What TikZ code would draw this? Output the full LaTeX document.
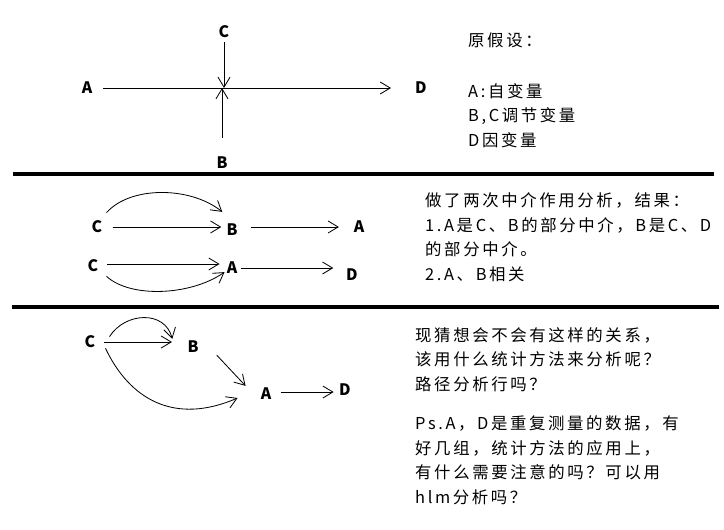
\documentclass[tikz,border=0pt]{standalone}
\usepackage{fontspec}
\newfontfamily\cjk[LetterSpace=16]{Noto Sans CJK SC}
\newfontfamily\labfont{Noto Sans CJK SC}
\usetikzlibrary{arrows.meta,calc}
\tikzset{
  var/.style={font=\labfont\bfseries\fontsize{13.5}{16}\selectfont, inner sep=0pt},
  note/.style={font=\cjk\fontsize{14}{20.8}\selectfont, inner sep=0pt,
    anchor=base west, align=left},
  arr/.style={-{Straight Barb[length=3mm,width=3.6mm]}, line width=0.7pt},
  sep/.style={line width=3.3pt}
}
\begin{document}
\begin{tikzpicture}[x=0.03cm, y=-0.03cm]
  \useasboundingbox (0,0) rectangle (724,529);

  % Hipoteza
  \node[var] (a1) at (87,88) {A};
  \node[var] (d1) at (421,88) {D};
  \node[var] (c1) at (224,32) {C};
  \node[var] (b1) at (222,163) {B};
  \draw[arr, shorten <=3.2mm, shorten >=7.2mm] (a1.east) -- (d1.west);
  \draw[arr, shorten <=1.2mm] (c1.south) -- (c1 |- a1);
  \draw[arr, shorten <=5.7mm] (b1.north) -- (b1 |- a1);

  % (base = ostatnia linia)
  \node[note] (hyp) at (468,46) {原假设：};
  \node[note] (vars) at (468,146) {A:自变量\\B,C调节变量\\D因变量};

  % Kreski
  \draw[sep] (13,174) -- (714,174);
  \draw[sep] (12,307) -- (719,307);

  % Mediacja
  \node[var] (c2) at (97,227) {C};
  \node[var] (b2) at (232,230) {B};
  \node[var] (a2) at (359,227) {A};
  \node[var] (c3) at (93,266) {C};
  \node[var] (a3) at (232,268) {A};
  \node[var] (d3) at (352,275) {D};

  \draw[arr, shorten <=3mm, shorten >=1.5mm] (c2.east) -- (c2.east -| b2.west);
  \draw[arr] ($(c2.north east)+(4,-8)$) .. controls (130,186) and (190,186)
    .. ($(b2.north west)+(-4,-12)$);
  \draw[arr, shorten <=4mm, shorten >=4.4mm] (a2.west -| b2.east) -- (a2.west);
  \draw[arr, shorten <=2.5mm, shorten >=2.1mm] ($(c3.east)+(0,-2)$)
    -- ($(c3.east -| a3.west)+(0,-2)$);
  \draw[arr] ($(c3.south east)+(8,4)$) .. controls (130,298) and (190,296)
    .. ($(a3.south west)+(-2,-2)$);
  \draw[arr, shorten <=1mm, shorten >=3.8mm] (a3.east) -- (a3.east -| d3.west);

  \node[note] (res) at (425,280) {做了两次中介作用分析，结果：\\
    1.A是C、B的部分中介，B是C、D\\
    的部分中介。\\
    2.A、B相关};

  % Sciezki
  \node[var] (c4) at (90,342) {C};
  \node[var] (b4) at (193,347) {B};
  \node[var] (a4) at (266,394) {A};
  \node[var] (d4) at (345,390) {D};

  \draw[arr, shorten <=2.5mm, shorten >=4.6mm] (c4.east) -- (c4.east -| b4.west);
  \draw[arr] ($(c4.north east)+(14,1)$) .. controls (125,312) and (165,310)
    .. ($(b4.north west)+(-15,-2)$);
  \draw[arr] ($(b4.south east)+(18,2)$) -- ($(a4.north west)+(-15,-2)$);
  \draw[arr] ($(c4.south east)+(10,0)$) .. controls (130,400) and (175,425)
    .. ($(a4.west)+(-23,4)$);
  \draw[arr, shorten <=2.8mm, shorten >=1.6mm] ($(a4.east)+(0,-2)$)
    -- ($(a4.east -| d4.west)+(0,-2)$);

  \node[note] (ask) at (415,390) {现猜想会不会有这样的关系，\\
    该用什么统计方法来分析呢？\\
    路径分析行吗？};
  \node[note] (ps) at (415,503) {Ps.A，D是重复测量的数据，有\\
    好几组，统计方法的应用上，\\
    有什么需要注意的吗？可以用\\
    hlm分析吗？};
\end{tikzpicture}
\end{document}
